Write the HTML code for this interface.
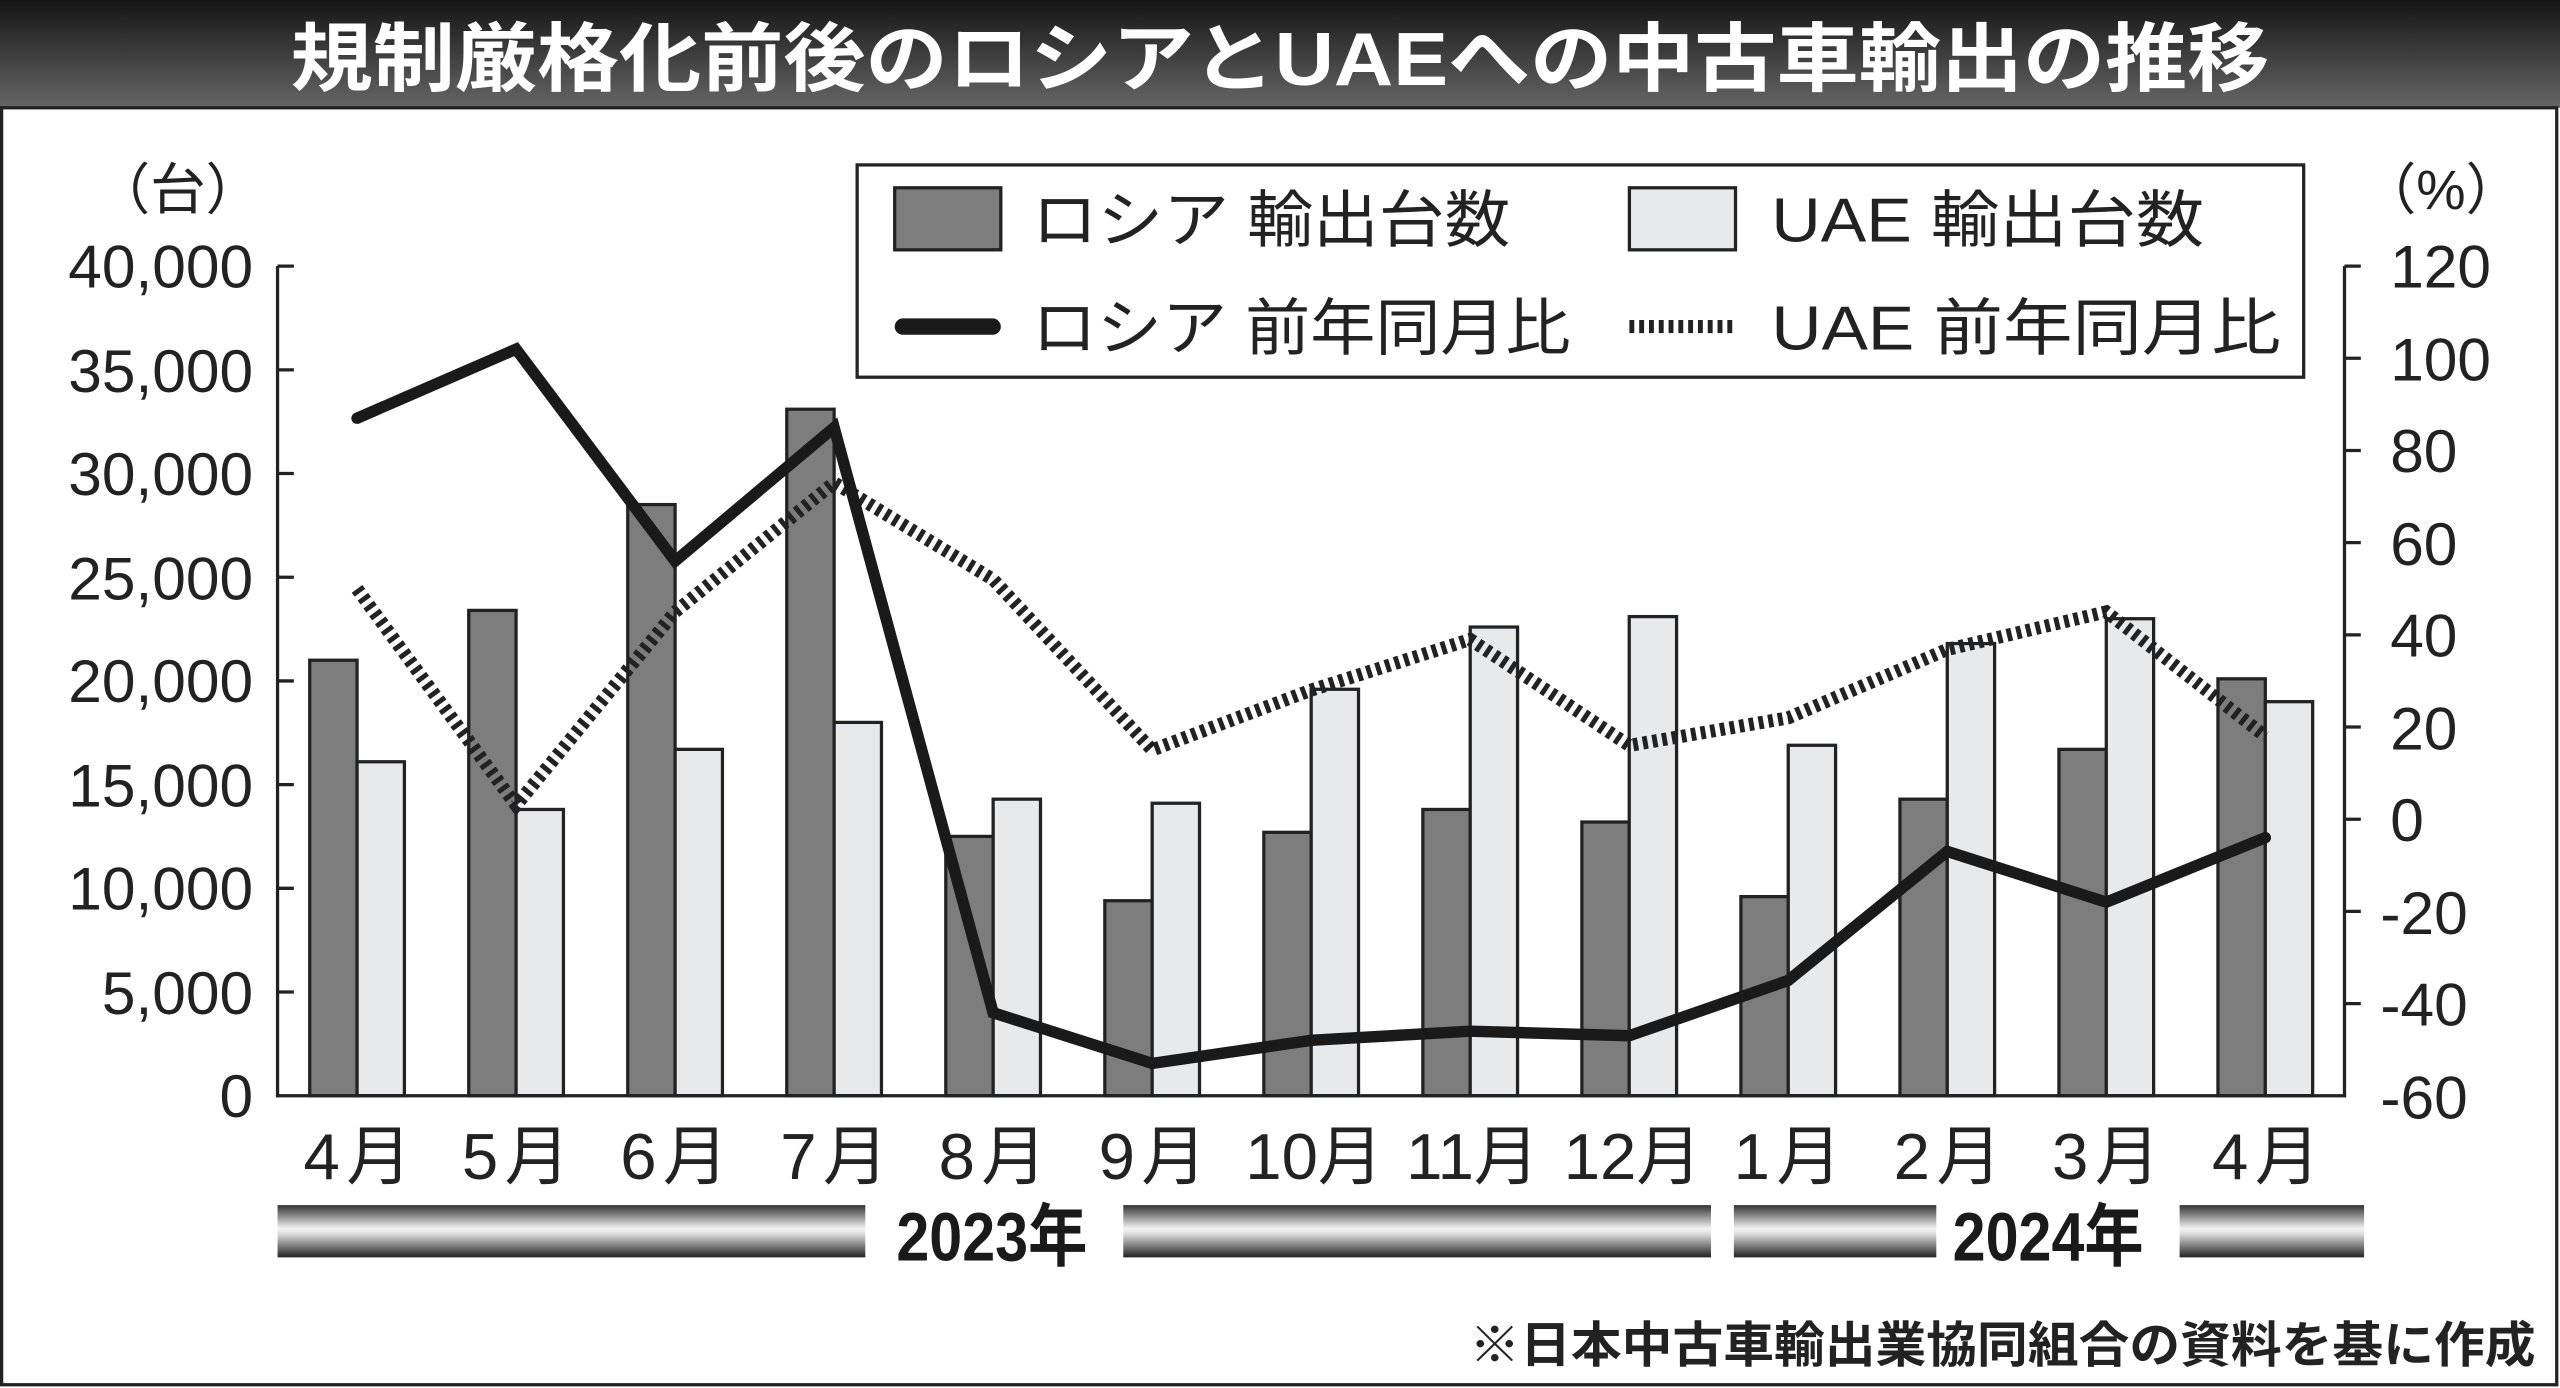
<!DOCTYPE html>
<html><head><meta charset="utf-8"><style>
html,body{margin:0;padding:0;background:#fff}
svg{display:block}
text{font-family:"Liberation Sans","Noto Sans CJK JP",sans-serif}
</style></head><body>
<svg width="2560" height="1388" viewBox="0 0 1568 850" preserveAspectRatio="none" xmlns="http://www.w3.org/2000/svg">
<defs>
<linearGradient id="tg" x1="0" y1="0" x2="0" y2="1">
<stop offset="0" stop-color="#151515"/><stop offset="1" stop-color="#666"/></linearGradient>
<linearGradient id="yb" x1="0" y1="0" x2="0" y2="1">
<stop offset="0" stop-color="#333"/><stop offset="0.45" stop-color="#f4f4f4"/><stop offset="0.55" stop-color="#ddd"/><stop offset="1" stop-color="#222"/></linearGradient>
</defs>
<rect x="0" y="0" width="1568" height="850" fill="#fff"/>
<rect x="0" y="0" width="1568" height="66" fill="url(#tg)"/>
<rect x="1" y="66" width="1565" height="782" fill="none" stroke="#222" stroke-width="2"/>
<text x="178" y="52" textLength="1212" lengthAdjust="spacingAndGlyphs" font-size="46" font-weight="bold" fill="#fff">規制厳格化前後のロシアとUAEへの中古車輸出の推移</text>

<text x="58" y="128" font-size="34" fill="#222">（台）</text>
<text x="1446" y="128" font-size="34" fill="#222">（%）</text>

<g font-size="37" fill="#222" text-anchor="end">
<text x="155" y="176">40,000</text><text x="155" y="240">35,000</text><text x="155" y="303">30,000</text>
<text x="155" y="367">25,000</text><text x="155" y="430">20,000</text><text x="155" y="494">15,000</text>
<text x="155" y="557">10,000</text><text x="155" y="621">5,000</text><text x="155" y="684">0</text>
</g>
<g font-size="37" fill="#222">
<text x="1464" y="176">120</text><text x="1464" y="233">100</text><text x="1464" y="289">80</text>
<text x="1464" y="346">60</text><text x="1464" y="402">40</text><text x="1464" y="459">20</text>
<text x="1464" y="515">0</text><text x="1458" y="572">-20</text><text x="1458" y="628">-40</text><text x="1458" y="685">-60</text>
</g>

<g stroke="#222" stroke-width="2" fill="#7d7d7d">
<rect x="189.7" y="404.3" width="29" height="266.7"/>
<rect x="287.1" y="373.8" width="29" height="297.2"/>
<rect x="384.5" y="309" width="29" height="362"/>
<rect x="481.9" y="250.6" width="29" height="420.4"/>
<rect x="579.3" y="512.2" width="29" height="158.8"/>
<rect x="676.7" y="551.6" width="29" height="119.4"/>
<rect x="774.1" y="509.7" width="29" height="161.3"/>
<rect x="871.5" y="495.7" width="29" height="175.3"/>
<rect x="968.9" y="503.4" width="29" height="167.6"/>
<rect x="1066.3" y="549.1" width="29" height="121.9"/>
<rect x="1163.7" y="489.4" width="29" height="181.6"/>
<rect x="1261.1" y="458.9" width="29" height="212.1"/>
<rect x="1358.5" y="415.7" width="29" height="255.3"/>
</g>
<g stroke="#222" stroke-width="2" fill="#e8e9ea">
<rect x="218.7" y="466.5" width="29" height="204.5"/>
<rect x="316.1" y="495.7" width="29" height="175.3"/>
<rect x="413.5" y="458.9" width="29" height="212.1"/>
<rect x="510.9" y="442.4" width="29" height="228.6"/>
<rect x="608.3" y="489.4" width="29" height="181.6"/>
<rect x="705.7" y="491.9" width="29" height="179.1"/>
<rect x="803.1" y="422.1" width="29" height="248.9"/>
<rect x="900.5" y="384" width="29" height="287"/>
<rect x="997.9" y="377.6" width="29" height="293.4"/>
<rect x="1095.3" y="456.4" width="29" height="214.6"/>
<rect x="1192.7" y="394.1" width="29" height="276.9"/>
<rect x="1290.1" y="378.9" width="29" height="292.1"/>
<rect x="1387.5" y="429.7" width="29" height="241.3"/>
</g>

<g stroke="#222" stroke-width="2">
<line x1="170" y1="163" x2="170" y2="672"/>
<line x1="1436" y1="163" x2="1436" y2="672"/>
<line x1="169" y1="671" x2="1437" y2="671"/>
<line x1="170" y1="163" x2="180" y2="163"/><line x1="170" y1="226.5" x2="180" y2="226.5"/>
<line x1="170" y1="290" x2="180" y2="290"/><line x1="170" y1="353.5" x2="180" y2="353.5"/>
<line x1="170" y1="417" x2="180" y2="417"/><line x1="170" y1="480.5" x2="180" y2="480.5"/>
<line x1="170" y1="544" x2="180" y2="544"/><line x1="170" y1="607.5" x2="180" y2="607.5"/>
<line x1="1436" y1="163" x2="1446" y2="163"/><line x1="1436" y1="219.4" x2="1446" y2="219.4"/>
<line x1="1436" y1="275.9" x2="1446" y2="275.9"/><line x1="1436" y1="332.3" x2="1446" y2="332.3"/>
<line x1="1436" y1="388.8" x2="1446" y2="388.8"/><line x1="1436" y1="445.2" x2="1446" y2="445.2"/>
<line x1="1436" y1="501.7" x2="1446" y2="501.7"/><line x1="1436" y1="558.1" x2="1446" y2="558.1"/>
<line x1="1436" y1="614.6" x2="1446" y2="614.6"/>
</g>

<polyline fill="none" stroke="#222" stroke-width="8" stroke-dasharray="3,3" points="218.7,360.6 316.1,493.2 413.5,374.7 510.9,295.6 608.3,354.9 705.7,459.3 803.1,422.6 900.5,391.6 997.9,456.5 1095.3,439.6 1192.7,397.7 1290.1,374.7 1387.5,450.9"/>
<polyline fill="none" stroke="#1a1a1a" stroke-width="7" stroke-linejoin="miter" stroke-linecap="round" points="218.7,256.1 316.1,213.8 413.5,343.6 510.9,261.8 608.3,620.2 705.7,651.2 803.1,637.1 900.5,631.5 997.9,634.3 1095.3,600.4 1192.7,521.4 1290.1,552.5 1387.5,513"/>

<rect x="525" y="101" width="886" height="130" fill="#fff" stroke="#222" stroke-width="2"/>
<rect x="548" y="115" width="65" height="38" fill="#7d7d7d" stroke="#222" stroke-width="2"/>
<rect x="998" y="115" width="65" height="38" fill="#e8e9ea" stroke="#222" stroke-width="2"/>
<line x1="553" y1="200" x2="608" y2="200" stroke="#1a1a1a" stroke-width="10" stroke-linecap="round"/>
<line x1="998" y1="200" x2="1063" y2="200" stroke="#222" stroke-width="8" stroke-dasharray="3,3"/>
<g font-size="38" fill="#222">
<text x="632" y="148" textLength="293" lengthAdjust="spacingAndGlyphs">ロシア 輸出台数</text>
<text x="1085" y="148" textLength="265" lengthAdjust="spacingAndGlyphs">UAE 輸出台数</text>
<text x="632" y="214" textLength="330" lengthAdjust="spacingAndGlyphs">ロシア 前年同月比</text>
<text x="1085" y="214" textLength="312" lengthAdjust="spacingAndGlyphs">UAE 前年同月比</text>
</g>

<g font-size="40" fill="#222" text-anchor="middle" letter-spacing="4">
<text x="221" y="722">4月</text><text x="318" y="722">5月</text><text x="415" y="722">6月</text>
<text x="513" y="722">7月</text><text x="610" y="722">8月</text><text x="708" y="722">9月</text>
<text x="805" y="722" letter-spacing="0">10月</text><text x="902" y="722" letter-spacing="0">11月</text><text x="1000" y="722" letter-spacing="0">12月</text>
<text x="1097" y="722">1月</text><text x="1195" y="722">2月</text><text x="1292" y="722">3月</text>
<text x="1390" y="722">4月</text>
</g>

<rect x="170" y="738" width="360" height="32" fill="url(#yb)"/>
<rect x="688" y="738" width="360" height="32" fill="url(#yb)"/>
<rect x="1062" y="738" width="124" height="32" fill="url(#yb)"/>
<rect x="1335" y="738" width="113" height="32" fill="url(#yb)"/>
<g font-size="42" font-weight="bold" fill="#1a1a1a">
<text x="549" y="772" textLength="117" lengthAdjust="spacingAndGlyphs">2023年</text>
<text x="1196" y="772" textLength="117" lengthAdjust="spacingAndGlyphs">2024年</text>
</g>

<text x="900" y="834" textLength="653" lengthAdjust="spacingAndGlyphs" font-size="30" font-weight="bold" fill="#222">※日本中古車輸出業協同組合の資料を基に作成</text>
</svg>
</body></html>
